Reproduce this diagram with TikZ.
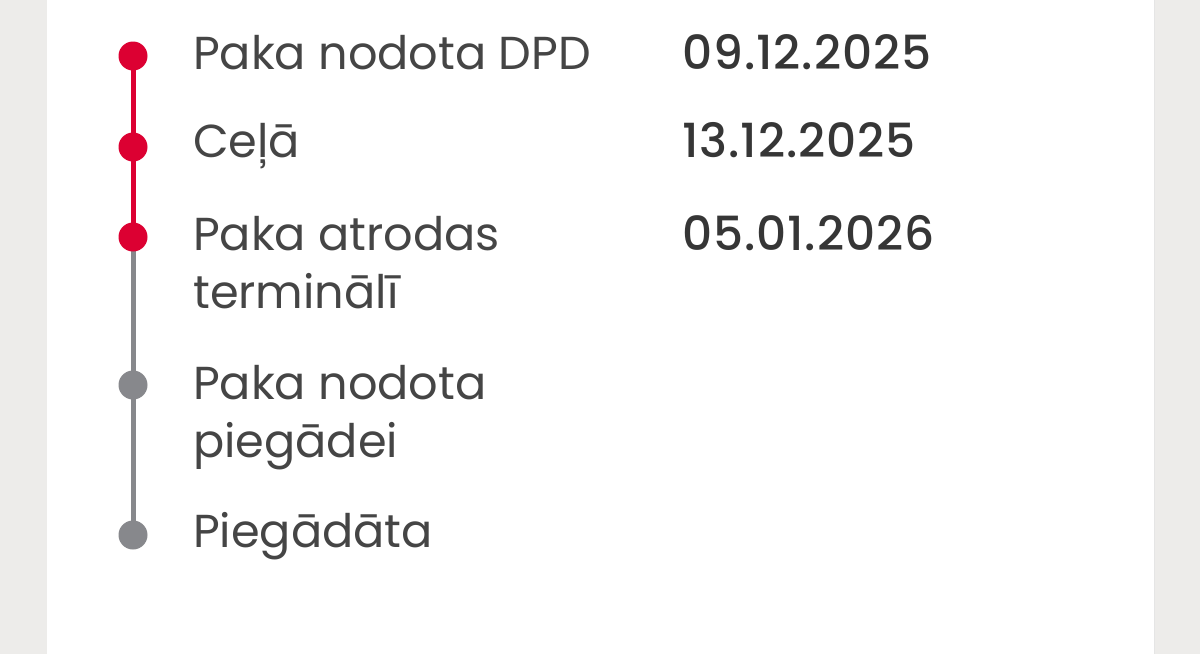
\documentclass[tikz,border=0pt]{standalone}
\usepackage{fontspec}
\setmainfont{Poppins}
\newfontfamily\datefont[LetterSpace=2]{Poppins Medium}
\definecolor{pagebg}{HTML}{EDECEA}
\definecolor{dpdred}{HTML}{DC0032}
\definecolor{stepgray}{HTML}{87888C}
\definecolor{labeltext}{HTML}{454545}
\definecolor{datetext}{HTML}{363636}
\tikzset{
  dotdone/.style={circle, fill=dpdred, minimum size=29pt, inner sep=0pt},
  dotopen/.style={circle, fill=stepgray, minimum size=29pt, inner sep=0pt},
  linkdone/.style={draw=dpdred, line width=5pt},
  linkopen/.style={draw=stepgray, line width=5pt},
  steplabel/.style={anchor=base west, inner sep=0pt, text=labeltext, font=\fontsize{46.2}{56}\selectfont},
  datelabel/.style={anchor=base west, inner sep=0pt, text=datetext, font=\datefont\fontsize{47}{56}\selectfont},
}
\begin{document}
\begin{tikzpicture}[x=1pt,y=-1pt]
\useasboundingbox (0,0) rectangle (1200,654);
\fill[pagebg] (0,0) rectangle (1200,654);
\fill[white] (47,0) rectangle (1154,654);
\draw[black!10, line width=1pt] (1154.5,0) -- (1154.5,654);
% dot positions
\coordinate (c1) at (133,56);
\coordinate (c2) at (133,147);
\coordinate (c3) at (133,237);
\coordinate (c4) at (133,385);
\coordinate (c5) at (133,535);
% connectors
\path[linkdone] (c1) -- (c2);
\path[linkdone] (c2) -- (c3);
\path[linkopen] (c3) ++(0,12) -- (c4);
\path[linkopen] (c4) -- (c5);
% dots
\node[dotdone] (d1) at (c1) {};
\node[dotdone] (d2) at (c2) {};
\node[dotdone] (d3) at (c3) {};
\node[dotopen] (d4) at (c4) {};
\node[dotopen] (d5) at (c5) {};
% labels
\node[steplabel] (l1) at (193,69) {Paka nodota DPD};
\node[steplabel] (l2) at (193,157) {Ceļā};
\node[steplabel] (l3a) at (193,250) {Paka atrodas};
\node[steplabel] (l3b) at (193,308) {terminālī};
\node[steplabel] (l4a) at (193,399) {Paka nodota};
\node[steplabel] (l4b) at (193,457) {piegādei};
\node[steplabel] (l5) at (193,547) {Piegādāta};
% dates
\node[datelabel] (t1) at (682,69) {09.12.2025};
\node[datelabel] (t2) at (682,157) {13.12.2025};
\node[datelabel] (t3) at (682,250) {05.01.2026};
\end{tikzpicture}
\end{document}
